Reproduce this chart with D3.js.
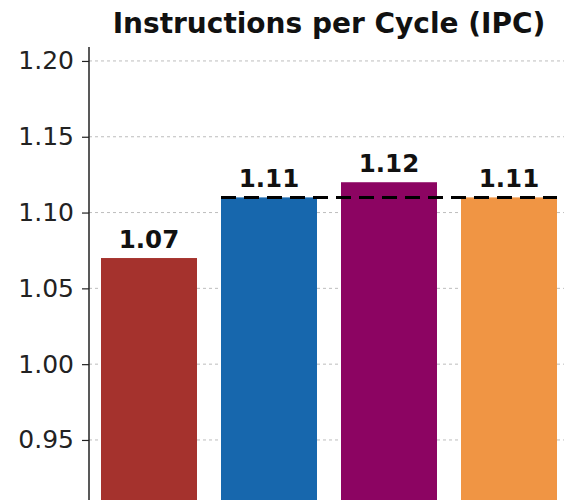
<!DOCTYPE html>
<html>
<head>
<meta charset="utf-8">
<script src="https://d3js.org/d3.v7.min.js"></script>
<style>
  body { margin: 0; background: #fff; }
  svg { display: block; font-family: 'DejaVu Sans', sans-serif; }
  .title { font-size: 28px; font-weight: bold; fill: #111; text-anchor: middle; }
  .barLabel { font-size: 24.5px; font-weight: bold; fill: #111; text-anchor: middle; }
  .axis text { font-size: 25px; fill: #222; font-family: 'DejaVu Sans', sans-serif; }
  .axis path, .axis line { stroke: #222; }
  .grid line { stroke: #bdbdbd; stroke-dasharray: 3,3; }
</style>
</head>
<body>
<script>
// chart data
var categories = ["A", "B", "C", "D"];
var ipcValues = [1.07, 1.11, 1.12, 1.11];
var barColors = ["#a5322d", "#1767ad", "#8c0462", "#f09544"];
var yTicks = [0.95, 1.00, 1.05, 1.10, 1.15, 1.20];
var refValue = 1.11;

var W = 564, H = 500;
var plotLeft = 89, plotRight = 569, plotTop = 47, plotBottom = 500;

var svg = d3.select("body").append("svg")
  .attr("width", W)
  .attr("height", H);

var x = d3.scaleBand()
  .domain(categories)
  .range([plotLeft, plotRight])
  .paddingInner(0.2)
  .paddingOuter(0.1);

var y = d3.scaleLinear()
  .domain([0.9104, 1.2092])
  .range([plotBottom, plotTop]);

// grid lines behind bars
svg.append("g").attr("class", "grid")
  .selectAll("line")
  .data(yTicks)
  .enter().append("line")
  .attr("x1", plotLeft).attr("x2", W)
  .attr("y1", function(d) { return y(d); })
  .attr("y2", function(d) { return y(d); });

// bars
svg.selectAll(".bar")
  .data(ipcValues)
  .enter().append("rect")
  .attr("class", "bar")
  .attr("x", function(d, i) { return x(categories[i]); })
  .attr("width", x.bandwidth())
  .attr("y", function(d) { return y(d); })
  .attr("height", function(d) { return plotBottom - y(d); })
  .style("fill", function(d, i) { return barColors[i]; });

// value labels
svg.selectAll(".barLabel")
  .data(ipcValues)
  .enter().append("text")
  .attr("class", "barLabel")
  .attr("x", function(d, i) { return x(categories[i]) + x.bandwidth() / 2; })
  .attr("y", function(d) { return y(d) - 10; })
  .text(function(d) { return d.toFixed(2); });

// reference dashed line
svg.append("line")
  .attr("x1", x(categories[1]))
  .attr("x2", x(categories[3]) + x.bandwidth())
  .attr("y1", y(refValue))
  .attr("y2", y(refValue))
  .style("stroke", "#000")
  .style("stroke-width", 3)
  .style("stroke-dasharray", "15,8");

// y axis
var yAxis = d3.axisLeft(y)
  .tickValues(yTicks)
  .tickSize(7)
  .tickPadding(8)
  .tickFormat(d3.format(".2f"));

var gy = svg.append("g")
  .attr("class", "axis")
  .attr("transform", "translate(" + plotLeft + ",0)")
  .call(yAxis);
gy.attr("font-family", null).attr("font-size", null);
gy.select(".domain").attr("d", "M0," + plotTop + "V" + plotBottom).style("stroke-width", 1.5);
gy.selectAll(".tick line").style("stroke-width", 1.2);

// title
svg.append("text")
  .attr("class", "title")
  .attr("x", (plotLeft + plotRight) / 2)
  .attr("y", 33)
  .text("Instructions per Cycle (IPC)");
</script>
</body>
</html>
